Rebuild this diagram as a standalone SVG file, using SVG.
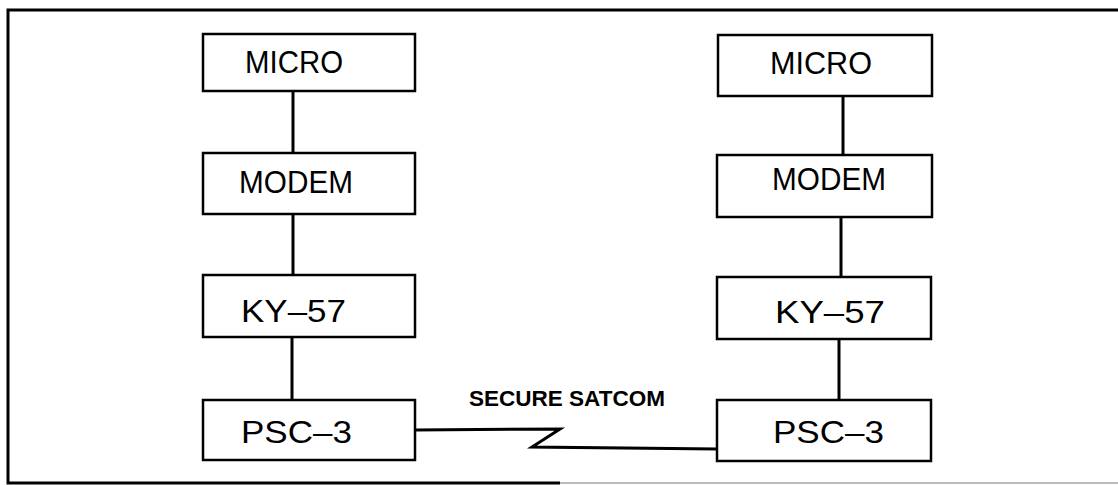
<svg xmlns="http://www.w3.org/2000/svg" width="1118" height="485" viewBox="0 0 1118 485">
<style>
.box{fill:#fff;stroke:#000;stroke-width:2.5}
.lbl{font-family:"Liberation Sans",Arial,sans-serif;font-size:31px;fill:#000}
.sat{font-family:"Liberation Sans",Arial,sans-serif;font-size:22px;font-weight:bold;fill:#000}
.conn{fill:none;stroke:#000;stroke-width:3}
.frame{fill:none;stroke:#000;stroke-width:3}
</style>
<rect width="1118" height="485" fill="#fff"/>
<g id="frame">
<path class="frame" d="M1118 10 L8 10 L8 483 L560 483"/>
<path d="M560 483 L1118 483" fill="none" stroke="#bbb" stroke-width="2"/>
</g>
<g id="connectors">
<line class="conn" x1="293" y1="91" x2="293" y2="153"/>
<line class="conn" x1="293" y1="214" x2="293" y2="275"/>
<line class="conn" x1="292" y1="337" x2="292" y2="400"/>
<line class="conn" x1="843" y1="96" x2="843" y2="155"/>
<line class="conn" x1="841" y1="217" x2="841" y2="277"/>
<line class="conn" x1="839" y1="339" x2="839" y2="400"/>
<polyline class="conn" points="415,430 560,429 532,447 717,449"/>
</g>
<g id="micro-left">
<rect class="box" x="203" y="34" width="212" height="57"/>
<text class="lbl" x="245" y="73" textLength="98" lengthAdjust="spacingAndGlyphs">MICRO</text>
</g>
<g id="modem-left">
<rect class="box" x="203" y="153" width="212" height="61"/>
<text class="lbl" x="239" y="193" textLength="114" lengthAdjust="spacingAndGlyphs">MODEM</text>
</g>
<g id="ky57-left">
<rect class="box" x="203" y="275" width="212" height="62"/>
<text class="lbl" x="241" y="322" textLength="105" lengthAdjust="spacingAndGlyphs">KY–57</text>
</g>
<g id="psc3-left">
<rect class="box" x="203" y="400" width="212" height="60"/>
<text class="lbl" x="241" y="443" textLength="111" lengthAdjust="spacingAndGlyphs">PSC–3</text>
</g>
<g id="micro-right">
<rect class="box" x="718" y="35" width="214" height="61"/>
<text class="lbl" x="770" y="74" textLength="102" lengthAdjust="spacingAndGlyphs">MICRO</text>
</g>
<g id="modem-right">
<rect class="box" x="717" y="155" width="215" height="62"/>
<text class="lbl" x="772" y="190" textLength="114" lengthAdjust="spacingAndGlyphs">MODEM</text>
</g>
<g id="ky57-right">
<rect class="box" x="717" y="277" width="214" height="62"/>
<text class="lbl" x="775" y="323" textLength="110" lengthAdjust="spacingAndGlyphs">KY–57</text>
</g>
<g id="psc3-right">
<rect class="box" x="717" y="400" width="214" height="61"/>
<text class="lbl" x="773" y="443" textLength="111" lengthAdjust="spacingAndGlyphs">PSC–3</text>
</g>
<g id="label-satcom">
<text class="sat" x="469" y="406" textLength="196" lengthAdjust="spacingAndGlyphs">SECURE SATCOM</text>
</g>
</svg>
